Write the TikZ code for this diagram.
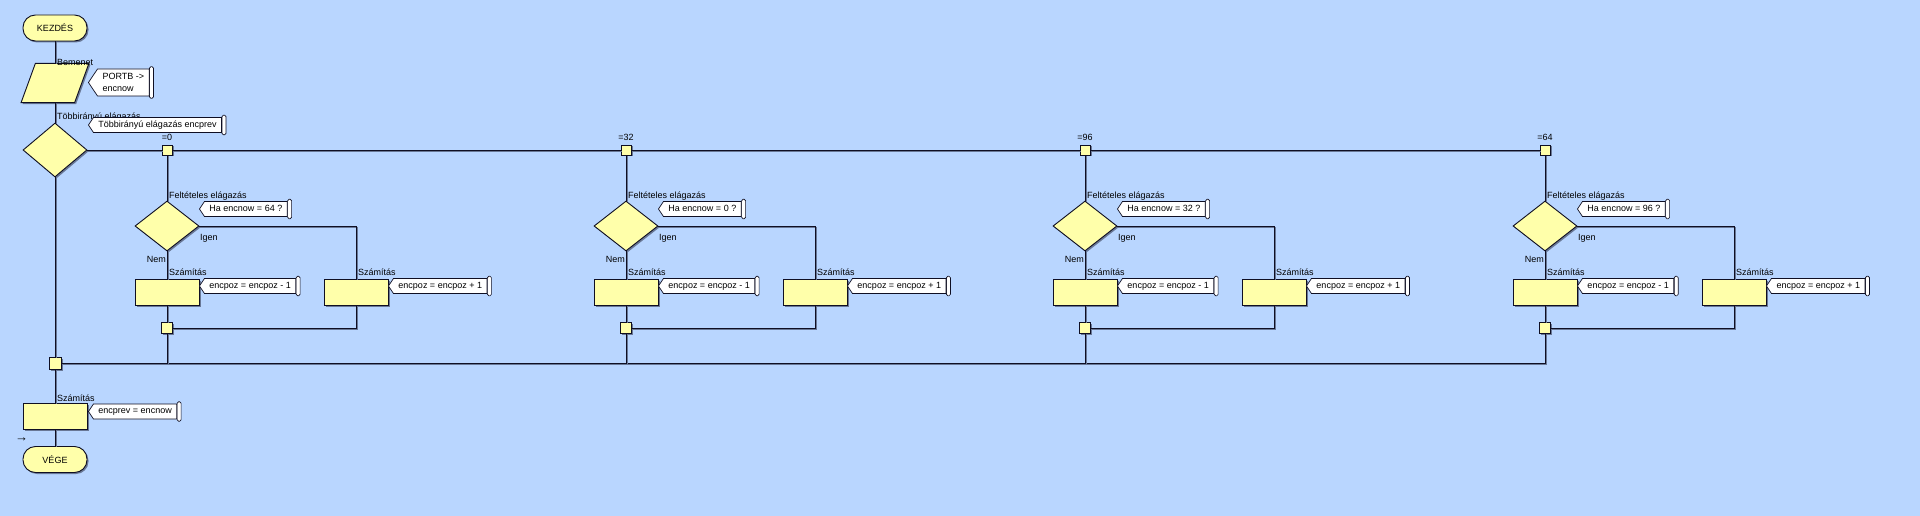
\documentclass[tikz,border=0pt]{standalone}
\usepackage{fontspec}
\setmainfont{Liberation Sans}
\usepackage{tikz}
\usetikzlibrary{shapes.geometric,shapes.symbols,shadows}

\definecolor{hatter}{RGB}{185,214,255}
\definecolor{sarga}{RGB}{255,255,170}
\definecolor{arnyekszin}{RGB}{105,120,150}
\definecolor{vonalszin}{RGB}{15,15,35}

\begin{document}
\begin{tikzpicture}[x=1pt,y=-1pt,
  every node/.style={font=\fontsize{9}{11.5}\selectfont},
  vonal/.style={draw=vonalszin,line width=0.9pt,
    preaction={draw=arnyekszin,line width=0.9pt,transform canvas={xshift=1pt,yshift=-1pt}}},
  arnyek/.style={drop shadow={shadow xshift=1.5pt,shadow yshift=-1.5pt,fill=arnyekszin,opacity=1}},
  alak/.style={draw=vonalszin,line width=0.9pt,fill=sarga,arnyek,inner sep=0pt},
  vegpont/.style={alak,rectangle,rounded corners=12.5pt,minimum width=64pt,minimum height=26pt},
  bemenetalak/.style={alak,trapezium,trapezium left angle=70,trapezium right angle=110,
    inner sep=2pt,minimum width=68pt,minimum height=26pt},
  dontes/.style={alak,diamond,minimum width=64pt,minimum height=50pt},
  muvelet/.style={alak,rectangle,minimum width=64pt,minimum height=26pt},
  pont/.style={alak,rectangle,minimum size=10pt},
  cimke/.style={anchor=base west,inner sep=0pt},
  megj/.style={signal,signal to=west,signal pointer angle=112,draw=vonalszin,line width=0.7pt,
    fill=white,anchor=west,align=left,inner xsep=5pt,inner ysep=1pt,minimum height=15pt,
    text height=6.5pt,text depth=2pt,
    append after command={\pgfextra{\draw[draw=vonalszin,line width=0.7pt,fill=white,rounded corners=1.5pt]
      ([yshift=2pt]\tikzlastnode.east |- \tikzlastnode.north) rectangle
      ([xshift=4pt,yshift=-2pt]\tikzlastnode.east |- \tikzlastnode.south);}}}
]
\fill[hatter] (0,0) rectangle (1920,516);

% indulas, bemenet
\node[vegpont] (kezdes) at (55,28) {KEZDÉS};
\node[bemenetalak] (bemenet) at (55,83) {};
\node[cimke] (c_bem) at (57,66) {Bemenet};
\node[megj,minimum height=27pt,text height={},text depth={}] (m_bem) at (88,82.5) {PORTB ->\\encnow};

% tobbiranyu elagazas
\node[dontes,minimum height=54pt] (tobbir) at (55,150) {};
\node[cimke] (c_tobb) at (57,120) {Többirányú elágazás};
\node[megj] (m_tobb) at (88,125) {Többirányú elágazás encprev};

\foreach \i/\x/\eset/\ertek in {1/167/0/64,2/626/32/0,3/1085/96/32,4/1545/64/96}{
  \node[pont] (ag\i) at (\x,150) {};
  \node[anchor=base,inner sep=0pt] (e\i) at (\x,141) {=\eset};
  \node[dontes] (felt\i) at (\x,226) {};
  \node[cimke] (cf\i) at (\x+2,198) {Feltételes elágazás};
  \node[megj] (mf\i) at (\x+32,209) {Ha encnow = \ertek\ ?};
  \node[cimke] (igen\i) at (\x+33,240) {Igen};
  \node[anchor=base east,inner sep=0pt] (nem\i) at (\x-1,262) {Nem};
  \node[muvelet] (kiv\i) at (\x,292) {};
  \node[cimke] (ck\i) at (\x+2,275) {Számítás};
  \node[megj] (mk\i) at (\x+32,286) {encpoz = encpoz - 1};
  \node[muvelet] (hoz\i) at (\x+189,292) {};
  \node[cimke] (ch\i) at (\x+191,275) {Számítás};
  \node[megj] (mh\i) at (\x+221,286) {encpoz = encpoz + 1};
  \node[pont,minimum size=11pt] (ossz\i) at (\x,328) {};
  \draw[vonal] (ag\i) -- (felt\i) (felt\i) -- (kiv\i) (kiv\i) -- (ossz\i)
    (felt\i.east) -| (hoz\i) (hoz\i) |- (ossz\i);
}

% vege
\node[pont,minimum size=12pt] (gyujto) at (55,363) {};
\node[muvelet] (szamit) at (55,416.5) {};
\node[cimke] (c_szam) at (57,401) {Számítás};
\node[megj] (m_szam) at (88,411.5) {encprev = encnow};
\node[anchor=base west,inner sep=0pt,font=\fontsize{13}{13}\selectfont] (nyil) at (15,441) {→};
\node[vegpont] (vege) at (55,459.5) {VÉGE};

\draw[vonal] (kezdes) -- (bemenet) (bemenet) -- (tobbir) (tobbir) -- (gyujto)
  (gyujto) -- (szamit) (szamit) -- (vege);
\draw[vonal] (tobbir.east) -- (ag1) (ag1) -- (ag2) (ag2) -- (ag3) (ag3) -- (ag4);
\draw[vonal] (gyujto) -| (ossz4);
\foreach \i in {1,2,3}{
  \draw[vonal] (ossz\i) -- (ossz\i |- gyujto);
}
\end{tikzpicture}
\end{document}
